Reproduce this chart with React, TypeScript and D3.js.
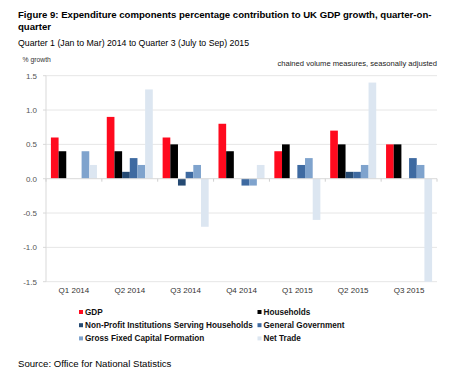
import React from "react";
import * as d3 from "d3";

const categories = ["Q1 2014", "Q2 2014", "Q3 2014", "Q4 2014", "Q1 2015", "Q2 2015", "Q3 2015"];
const seriesNames = [
  "GDP",
  "Households",
  "Non-Profit Institutions Serving Households",
  "General Government",
  "Gross Fixed Capital Formation",
  "Net Trade",
];
const seriesColors = ["#ff0a1e", "#000000", "#254a73", "#3e6aa1", "#7fa3cd", "#dce6f1"];
const gdp = [0.6, 0.9, 0.6, 0.8, 0.4, 0.7, 0.5];
const households = [0.4, 0.4, 0.5, 0.4, 0.5, 0.5, 0.5];
const npish = [0, 0.1, -0.1, 0, 0, 0.1, 0];
const generalGov = [0, 0.3, 0.1, -0.1, 0.2, 0.1, 0.3];
const gfcf = [0.4, 0.2, 0.2, -0.1, 0.3, 0.2, 0.2];
const netTrade = [0.2, 1.3, -0.7, 0.2, -0.6, 1.4, -1.5];
const seriesValues = [gdp, households, npish, generalGov, gfcf, netTrade];
const yTicks = [-1.5, -1.0, -0.5, 0, 0.5, 1.0, 1.5];

const W = 460;
const H = 378;
const left = 46;
const right = 437;
const top = 75.7;
const bottom = 281.7;
const FONT = "'Liberation Sans', Arial, sans-serif";

export default function App() {
  const x0 = d3.scaleBand<string>().domain(categories).range([left, right]).paddingInner(0.176).paddingOuter(0.088);
  const step = (right - left) / categories.length;
  const x1 = d3.scaleBand<number>().domain(d3.range(seriesNames.length)).range([0, x0.bandwidth()]);
  const y = d3.scaleLinear().domain([-1.5, 1.5]).range([bottom, top]);
  const y0 = y(0);

  const legendRows = [
    [0, 1],
    [2, 3],
    [4, 5],
  ];

  return (
    <svg width={W} height={H} style={{ position: "absolute", left: 0, top: 0, background: "#fff" }} fontFamily={FONT}>
      <text x={18} y={18} fontSize={9.6} fontWeight="bold" fill="#000">
        Figure 9: Expenditure components percentage contribution to UK GDP growth, quarter-on-
      </text>
      <text x={18} y={30} fontSize={9.6} fontWeight="bold" fill="#000">quarter</text>
      <text x={18} y={46} fontSize={8.75} fill="#000">
        Quarter 1 (Jan to Mar) 2014 to Quarter 3 (July to Sep) 2015
      </text>
      <text x={22.5} y={62} fontSize={6.8} fill="#333">% growth</text>
      <text x={right} y={66} fontSize={7.6} fill="#222" textAnchor="end">
        chained volume measures, seasonally adjusted
      </text>

      {yTicks.map((t) => (
        <g key={t}>
          {t !== 0 && <line x1={left} x2={right} y1={y(t)} y2={y(t)} stroke="#e6e6e6" strokeWidth={1} />}
          <line x1={left - 3} x2={left} y1={y(t)} y2={y(t)} stroke="#d9d9d9" />
          <text x={37} y={y(t)} dy="0.35em" fontSize={8} fill="#555" textAnchor="end">
            {t.toFixed(1)}
          </text>
        </g>
      ))}
      <line x1={left} x2={left} y1={top} y2={bottom} stroke="#d9d9d9" />

      {categories.map((c, ci) =>
        seriesValues.map((vals, si) => {
          const v = vals[ci];
          if (v === 0) return null;
          const bx = (x0(c) as number) + (x1(si) as number);
          return (
            <rect
              key={`${ci}-${si}`}
              x={bx}
              width={x1.bandwidth()}
              y={Math.min(y(v), y0)}
              height={Math.abs(y(v) - y0)}
              fill={seriesColors[si]}
            />
          );
        })
      )}

      <line x1={left} x2={right} y1={y0} y2={y0} stroke="#d9d9d9" />
      {d3.range(categories.length + 1).map((i) => (
        <line key={i} x1={left + i * step} x2={left + i * step} y1={y0} y2={y0 + 3} stroke="#d0d0d0" />
      ))}

      {categories.map((c) => (
        <text
          key={c}
          x={(x0(c) as number) + x0.bandwidth() / 2}
          y={293}
          fontSize={8}
          fill="#333"
          textAnchor="middle"
        >
          {c}
        </text>
      ))}

      {legendRows.map((row, ri) =>
        row.map((si, col) => {
          const lx = col === 0 ? 79 : 257.5;
          const ly = 312 + ri * 13.2;
          return (
            <g key={si}>
              <rect x={lx} y={ly - 2} width={4} height={4} fill={seriesColors[si]} />
              <text x={lx + 6} y={ly} dy="0.35em" fontSize={8.2} fontWeight="bold" fill="#111">
                {seriesNames[si]}
              </text>
            </g>
          );
        })
      )}

      <text x={18} y={367} fontSize={9.6} fill="#000">Source: Office for National Statistics</text>
    </svg>
  );
}
